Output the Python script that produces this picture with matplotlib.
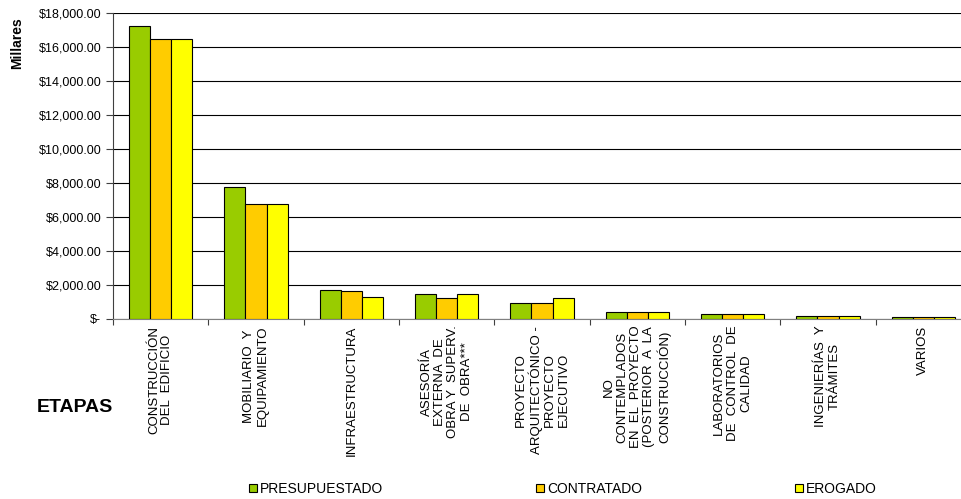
import matplotlib.pyplot as plt
import numpy as np
from matplotlib.ticker import FuncFormatter
from matplotlib.patches import Patch

plt.rcParams['font.family'] = ['Liberation Sans', 'DejaVu Sans']

etapas = ["CONSTRUCCIÓN\nDEL  EDIFICIO",
          "MOBILIARIO  Y\nEQUIPAMIENTO",
          "INFRAESTRUCTURA",
          "ASESORÍA\nEXTERNA  DE\nOBRA Y  SUPERV.\nDE  OBRA***",
          "PROYECTO\nARQUITECTÓNICO -\nPROYECTO\nEJECUTIVO",
          "NO\nCONTEMPLADOS\nEN  EL  PROYECTO\n(POSTERIOR  A  LA\nCONSTRUCCIÓN)",
          "LABORATORIOS\nDE  CONTROL  DE\nCALIDAD",
          "INGENIERÍAS  Y\nTRÁMITES",
          "VARIOS"]

presupuestado = [17240, 7780, 1705, 1445, 915, 440, 280, 205, 90]
contratado = [16480, 6740, 1645, 1250, 915, 440, 280, 205, 90]
erogado = [16480, 6740, 1310, 1450, 1210, 440, 320, 205, 90]

series = [("PRESUPUESTADO", presupuestado, "#99CC00"),
          ("CONTRATADO", contratado, "#FFCC00"),
          ("EROGADO", erogado, "#FFFF00")]

fig = plt.figure(figsize=(9.62, 4.99), dpi=100)
ax = fig.add_axes([113/962, 180/499, 858/962, 306/499])

x = np.arange(len(etapas))
w = 1/4.5
for i, (name, vals, col) in enumerate(series):
    ax.bar(x + (i-1)*w, vals, width=w, color=col, edgecolor='black', linewidth=0.8, zorder=3)

ax.set_xlim(-0.5, len(etapas)-0.5)
ax.set_ylim(0, 18000)
ax.set_yticks(np.arange(0, 18001, 2000))
ax.yaxis.set_major_formatter(FuncFormatter(lambda v, p: "$-" if v == 0 else "${:,.2f}".format(v)))
ax.grid(axis='y', color='black', linewidth=0.8, zorder=0)
ax.tick_params(axis='y', labelsize=9, length=5, width=0.8, color='#404040')

ax.set_xticks(np.arange(len(etapas)+1) - 0.5)
ax.set_xticklabels([])
ax.tick_params(axis='x', length=4, width=0.8, color='#404040')
for xi, lab in zip(x, etapas):
    ax.text(xi, -0.022, lab, rotation=90, ha='center', va='top', multialignment='center',
            fontsize=9.5, transform=ax.get_xaxis_transform(), linespacing=1.15)

ax.spines['right'].set_visible(False)
ax.spines['top'].set_visible(False)
ax.spines['left'].set_color('#404040')
ax.spines['bottom'].set_color('#808080')

fig.text(17/962, 1 - 43/499, "Millares", rotation=90, ha='center', va='center', fontsize=10, fontweight='bold')
fig.text(75/962, 1 - 408/499, "ETAPAS", ha='center', va='center', fontsize=14, fontweight='bold')

handles = [Patch(facecolor=c, edgecolor='black', linewidth=0.8, label=n) for n, v, c in series]
fig.legend(handles=handles, loc='center left', bbox_to_anchor=(249/962, 1 - 489/499),
           ncol=3, frameon=False, fontsize=10, handlelength=0.55, handleheight=0.55,
           handletextpad=0.25, columnspacing=11.0, borderaxespad=0, borderpad=0)

plt.savefig("out.png", dpi=100)
